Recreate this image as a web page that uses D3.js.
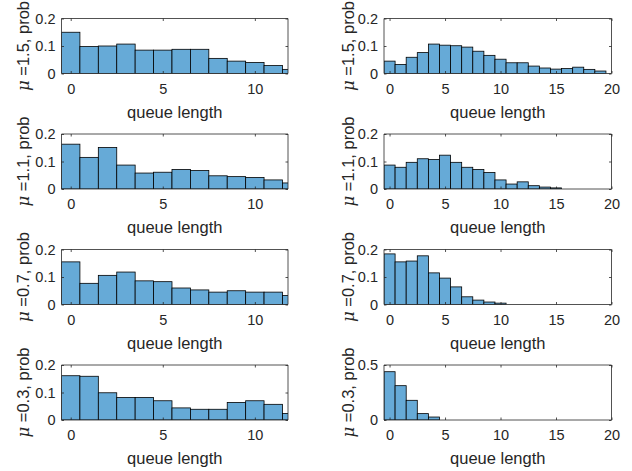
<!DOCTYPE html>
<html lang="en">
<head>
<meta charset="UTF-8">
<title>Queue length histograms</title>
<script src="https://d3js.org/d3.v7.min.js"></script>
<style>
    body { margin: 0; background: #fff; }
    svg { display: block; font-family: "Liberation Sans", Arial, sans-serif; }
    .tick text { fill: #262626; }
</style>
</head>
<body>
<svg width="632" height="471"></svg>
<script>
// mu values, one per row
const muLabels = ["1.5", "1.1", "0.7", "0.3"];

// left column: bins 0..12 (last one clipped)
const leftBins = d3.range(0, 13);
const left15 = [0.150, 0.098, 0.100, 0.107, 0.085, 0.085, 0.088, 0.088, 0.055, 0.045, 0.040, 0.029, 0.015];
const left11 = [0.163, 0.115, 0.151, 0.087, 0.058, 0.061, 0.071, 0.067, 0.048, 0.045, 0.042, 0.033, 0.022];
const left07 = [0.155, 0.077, 0.106, 0.118, 0.086, 0.083, 0.060, 0.053, 0.045, 0.050, 0.045, 0.045, 0.033];
const left03 = [0.161, 0.159, 0.099, 0.082, 0.082, 0.070, 0.044, 0.039, 0.039, 0.064, 0.070, 0.057, 0.024];

// right column: bins 0..19
const rightBins = d3.range(0, 20);
const right15 = [0.045, 0.033, 0.059, 0.076, 0.107, 0.103, 0.101, 0.096, 0.081, 0.066, 0.052, 0.039, 0.039, 0.027, 0.020, 0.016, 0.018, 0.023, 0.015, 0.009];
const right11 = [0.087, 0.079, 0.097, 0.110, 0.107, 0.123, 0.097, 0.079, 0.071, 0.060, 0.033, 0.018, 0.026, 0.012, 0.007, 0.004, 0, 0, 0, 0];
const right07 = [0.184, 0.155, 0.158, 0.177, 0.115, 0.096, 0.064, 0.028, 0.016, 0.009, 0.005, 0, 0, 0, 0, 0, 0, 0, 0, 0];
const right03 = [0.439, 0.312, 0.179, 0.058, 0.027, 0, 0, 0, 0, 0, 0, 0, 0, 0, 0, 0, 0, 0, 0, 0];

const leftXTicks = [0, 5, 10];
const rightXTicks = [0, 5, 10, 15, 20];
const yTicksSmall = [0, 0.1, 0.2];
const yTicksBig = [0, 0.5];

const leftSeries = [left15, left11, left07, left03];
const rightSeries = [right15, right11, right07, right03];

const svg = d3.select("svg");
const textColor = "#262626";
const barFill = "rgb(102,170,215)";

const rowTop = 18.5, rowStep = 115.5, boxH = 55;
const cols = [
    { x0: 61.5, x1: 288, domain: [-0.5, 11.8], bins: leftBins, series: leftSeries, xticks: leftXTicks, labelX: 29 },
    { x0: 384, x1: 611.5, domain: [-0.5, 20], bins: rightBins, series: rightSeries, xticks: rightXTicks, labelX: 354 }
];

cols.forEach((col, ci) => {
    col.series.forEach((vals, ri) => {
        const top = rowTop + ri * rowStep;
        const bottom = top + boxH;
        const isBig = ci === 1 && ri === 3;
        const ymax = isBig ? 0.5 : 0.2;
        const yticks = isBig ? yTicksBig : yTicksSmall;

        const x = d3.scaleLinear().domain(col.domain).range([col.x0, col.x1]);
        const y = d3.scaleLinear().domain([0, ymax]).range([bottom, top]);

        const g = svg.append("g");
        const clipId = `clip-${ci}-${ri}`;
        g.append("clipPath").attr("id", clipId)
            .append("rect")
            .attr("x", col.x0).attr("y", top)
            .attr("width", col.x1 - col.x0).attr("height", boxH);

        // bars
        g.append("g")
            .attr("clip-path", `url(#${clipId})`)
            .selectAll("rect")
            .data(col.bins.map((b, i) => ({ b, v: vals[i] })).filter(d => d.v > 0))
            .enter().append("rect")
            .attr("x", d => x(d.b - 0.5))
            .attr("width", d => x(d.b + 0.5) - x(d.b - 0.5))
            .attr("y", d => y(d.v))
            .attr("height", d => y(0) - y(d.v))
            .attr("fill", barFill)
            .attr("stroke", "#000")
            .attr("stroke-width", 0.8);

        // axes, ticks inward, box on
        const tickLen = 2.5;
        const xAxis = d3.axisBottom(x).tickValues(col.xticks).tickSize(-tickLen).tickPadding(10).tickFormat(d3.format("d"));
        const xAxisTop = d3.axisTop(x).tickValues(col.xticks).tickSize(-tickLen).tickFormat("");
        const yAxis = d3.axisLeft(y).tickValues(yticks).tickSize(-tickLen).tickPadding(6).tickFormat(d => d === 0 ? "0" : d3.format(".1f")(d));
        const yAxisRight = d3.axisRight(y).tickValues(yticks).tickSize(-tickLen).tickFormat("");

        const styleAxis = sel => {
            sel.selectAll("path").attr("stroke", textColor).attr("stroke-width", 0.8);
            sel.selectAll("line").attr("stroke", textColor).attr("stroke-width", 0.8);
            sel.selectAll("text").attr("font-size", 14.5).attr("font-family", "Liberation Sans, Arial, sans-serif");
        };

        g.append("g").attr("transform", `translate(0,${bottom})`).call(xAxis).call(styleAxis)
            .call(s => s.select(".domain").attr("d", `M${col.x0},0H${col.x1}`));
        g.append("g").attr("transform", `translate(0,${top})`).call(xAxisTop).call(styleAxis)
            .call(s => s.select(".domain").attr("d", `M${col.x0},0H${col.x1}`));
        g.append("g").attr("transform", `translate(${col.x0},0)`).call(yAxis).call(styleAxis)
            .call(s => s.select(".domain").attr("d", `M0,${top}V${bottom}`));
        g.append("g").attr("transform", `translate(${col.x1},0)`).call(yAxisRight).call(styleAxis)
            .call(s => s.select(".domain").attr("d", `M0,${top}V${bottom}`));

        // x label
        g.append("text")
            .attr("x", (col.x0 + col.x1) / 2)
            .attr("y", bottom + 44)
            .attr("text-anchor", "middle")
            .attr("font-size", 16.5)
            .attr("fill", textColor)
            .text("queue length");

        // y label
        const yl = g.append("text")
            .attr("transform", `translate(${col.labelX},${(top + bottom) / 2}) rotate(-90)`)
            .attr("text-anchor", "middle")
            .attr("font-size", 16.5)
            .attr("fill", textColor);
        yl.append("tspan").attr("font-style", "italic").attr("font-family", "DejaVu Serif, serif").text("\u03bc");
        yl.append("tspan").text(` =${muLabels[ri]}, prob`);
    });
});
</script>
</body>
</html>
